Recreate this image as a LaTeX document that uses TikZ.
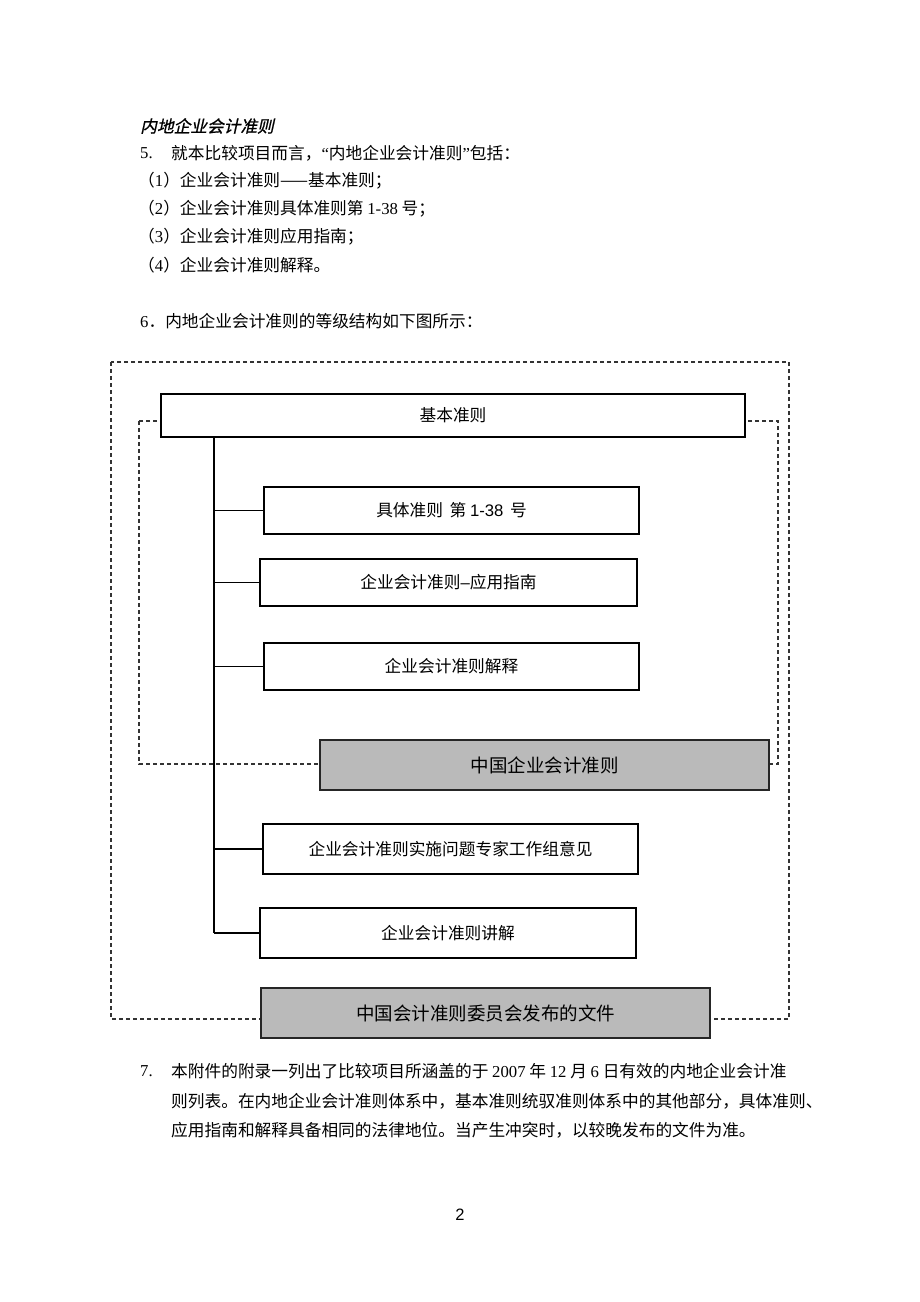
\documentclass[tikz,border=0pt]{standalone}
\usepackage{fontspec}
\setmainfont{Liberation Serif}
\newfontfamily\cjk{Noto Sans CJK SC}
\newfontfamily\cjkit{Noto Sans CJK SC}[FakeSlant=0.22,FakeBold=0.8]
\newfontfamily\arial{Liberation Sans}
\newcommand\tm[1]{{\rmfamily #1}}
\newcommand\ar[1]{{\arial #1}}
\tikzset{
  body/.style={anchor=west, inner sep=0pt, font=\fontsize{16.7}{20}\selectfont\cjk},
  box/.style={draw, line width=1.3pt, fill=white, inner sep=0pt, minimum height=47pt, font=\fontsize{16.7}{20}\selectfont\cjk},
  gbox/.style={box, fill=black!27, line width=1.5pt, draw=black!85, minimum height=50pt, font=\fontsize{18.5}{22}\selectfont\cjk},
  dsh/.style={dash pattern=on 4pt off 3pt, line width=1.1pt, draw=black!80},
  conn/.style={line width=1.1pt}
}
\begin{document}
\begin{tikzpicture}[x=1pt,y=-1pt]
\path[use as bounding box, fill=white] (0,0) rectangle (920,1302);

% body text
\node[body] (t0) at (140,126) {\cjkit 内地企业会计准则};
\node[body] (n5) at (140,153) {\tm{5.}};
\node[body] (l5) at (171,153) {就本比较项目而言，\tm{“}内地企业会计准则\tm{”}包括：};
\node[body] (l1) at (138,181) {（\tm{1}）企业会计准则——基本准则；};
\node[body] (l2) at (138,209) {（\tm{2}）企业会计准则具体准则第 \tm{1-38} 号；};
\node[body] (l3) at (138,237) {（\tm{3}）企业会计准则应用指南；};
\node[body] (l4) at (138,265) {（\tm{4}）企业会计准则解释。};
\node[body] (l6) at (140,321) {\tm{6}．内地企业会计准则的等级结构如下图所示：};

% dashed frames
\draw[dsh] (111,362) rectangle (789,1019);
\draw[dsh] (139,421) rectangle (778,764);

% boxes
\node[box, minimum width=584pt, minimum height=43pt] (b0) at (453,415.5) {基本准则};
\node[box, minimum width=375pt] (b1) at (451.5,510.5) {具体准则 \,第 \ar{1-38}\, 号};
\node[box, minimum width=377pt] (b2) at (448.5,582.5) {企业会计准则\ar{–}应用指南};
\node[box, minimum width=375pt] (b3) at (451.5,666.5) {企业会计准则解释};
\node[gbox, minimum width=449pt] (g1) at (544.5,765) {中国企业会计准则};
\node[box, minimum width=375pt, minimum height=50pt] (b4) at (450.5,849) {企业会计准则实施问题专家工作组意见};
\node[box, minimum width=376pt, minimum height=50pt] (b5) at (448,933) {企业会计准则讲解};
\node[gbox, minimum width=449pt] (g2) at (485.5,1013) {中国会计准则委员会发布的文件};

% spine and connectors
\coordinate (sp) at (214,0);
\draw[conn] (sp |- b0.south) -- (sp |- b5.west);
\foreach \b in {b1,b2,b3,b4,b5}{
  \draw[conn] (sp |- \b.west) -- (\b.west);
}

% paragraph 7
\node[body] (n7) at (140,1071) {\tm{7.}};
\node[body] (p1) at (171,1071) {本附件的附录一列出了比较项目所涵盖的于 \tm{2007} 年 \tm{12} 月 \tm{6} 日有效的内地企业会计准};
\node[body] (p2) at (171,1101) {则列表。在内地企业会计准则体系中，基本准则统驭准则体系中的其他部分，具体准则、};
\node[body] (p3) at (171,1130) {应用指南和解释具备相同的法律地位。当产生冲突时，以较晚发布的文件为准。};

\node[anchor=center, inner sep=0pt, font=\fontsize{16.5}{20}\selectfont\arial] (pg) at (460,1215) {2};
\end{tikzpicture}
\end{document}
